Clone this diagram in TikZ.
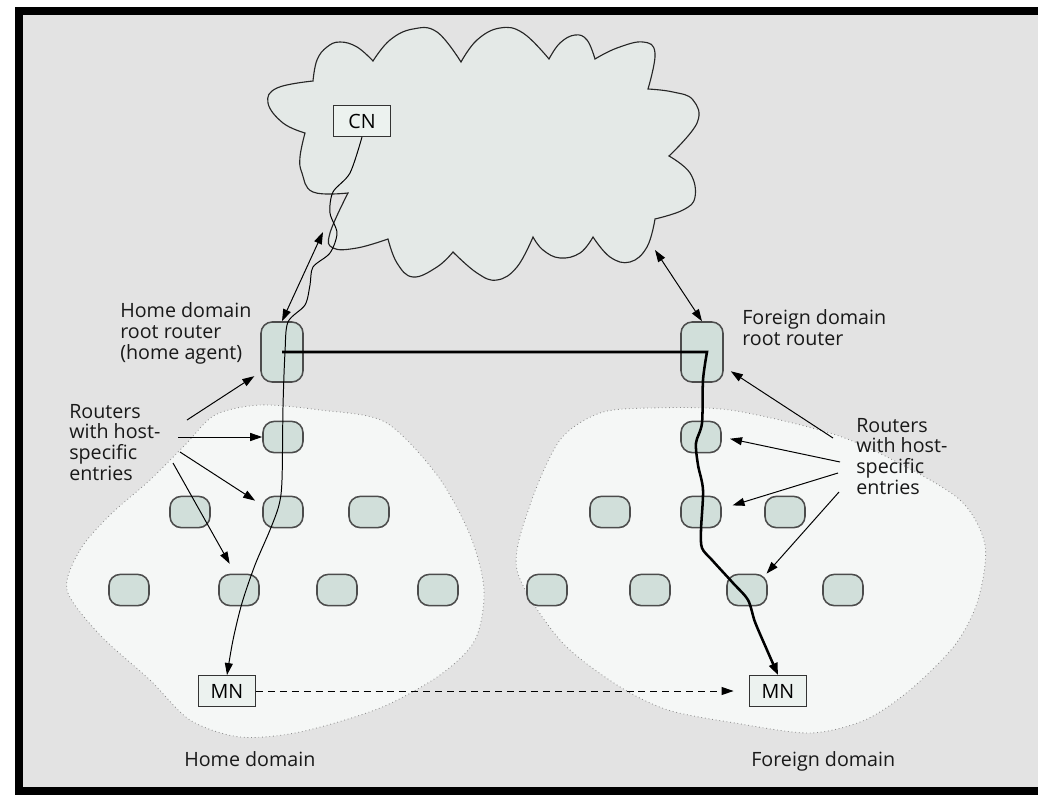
\documentclass[tikz,border=0pt]{standalone}
\usepackage{fontspec}
\setmainfont{Open Sans}
\usetikzlibrary{arrows.meta}

\definecolor{bggray}{HTML}{E3E3E3}
\definecolor{inetfill}{HTML}{E4E9E7}
\definecolor{areafill}{HTML}{F5F7F6}
\definecolor{rtrfill}{HTML}{D1DFDA}
\definecolor{hostfill}{HTML}{ECF2EF}

\begin{document}
\begin{tikzpicture}[x=0.025cm,y=-0.025cm,
  font=\fontsize{14}{14.6}\selectfont,
  rtr/.style={draw=black!70,line width=1.1pt,fill=rtrfill,rounded corners=0.28cm,
    minimum width=1cm,minimum height=0.78cm,inner sep=0pt},
  root/.style={rtr,minimum width=1.05cm,minimum height=1.5cm},
  host/.style={draw=black!80,line width=0.8pt,fill=hostfill,
    minimum width=1.42cm,minimum height=0.77cm,inner sep=0pt},
  lbl/.style={anchor=base west,align=left,inner sep=0pt,text=black!90},
  arr/.style={line width=0.7pt,-{Triangle[length=0.3cm,width=0.2cm]}},
  arrtwo/.style={line width=0.7pt,{Triangle[length=0.3cm,width=0.2cm]}-{Triangle[length=0.3cm,width=0.2cm]}},
  netarea/.style={draw=black!45,dotted,line width=0.6pt,fill=areafill},
  inet/.style={draw=black!85,line width=0.8pt,fill=inetfill}]
\useasboundingbox (0,0) rectangle (1038,795);
\fill[black] (15,7) rectangle (1038,795);
\fill[bggray] (23,15) rectangle (1038,787);

% the two domains
\draw[netarea] plot[smooth cycle] coordinates {(67,590) (80,550) (110,515) (150,480) (185,445)
  (215,415) (260,405) (320,410) (385,422) (437,475) (470,535) (484,590) (475,640) (440,675)
  (380,708) (300,732) (240,737) (190,720) (150,680) (100,635)};
\draw[netarea] plot[smooth cycle] coordinates {(517,570) (530,505) (560,440) (600,413) (650,408)
  (730,410) (830,433) (893,460) (960,500) (985,545) (978,600) (955,645) (910,690) (865,720)
  (810,733) (735,723) (668,710) (617,685) (560,640)};

% internet
\draw[inet] plot[smooth,tension=0.7] coordinates {(313,81) (317,60) (327,47) (340,42) (357,47) (373,61)}
  -- plot[smooth,tension=0.7] coordinates {(373,61) (390,40) (413,29) (437,32) (461,62)}
  -- plot[smooth,tension=0.7] coordinates {(461,62) (477,40) (500,28) (523,33) (549,59)}
  -- plot[smooth,tension=0.7] coordinates {(549,59) (560,43) (575,35) (587,40) (595,59)}
  -- plot[smooth,tension=0.7] coordinates {(595,59) (617,48) (643,42) (655,53) (648,89)}
  -- plot[smooth,tension=0.7] coordinates {(648,89) (673,92) (693,100) (697,123) (669,156)}
  -- plot[smooth,tension=0.7] coordinates {(669,156) (690,173) (695,197) (683,210) (655,219)}
  -- plot[smooth,tension=0.7] coordinates {(655,219) (647,247) (630,262) (610,257) (593,237)}
  -- plot[smooth,tension=0.7] coordinates {(593,237) (580,253) (560,258) (543,250) (533,237)}
  -- plot[smooth,tension=0.7] coordinates {(533,237) (517,267) (497,280) (477,273) (453,252)}
  -- plot[smooth,tension=0.7] coordinates {(453,252) (437,267) (413,277) (397,263) (388,239)}
  -- plot[smooth,tension=0.7] coordinates {(388,239) (357,248) (333,248) (330,233) (348,193)}
  -- plot[smooth,tension=0.7] coordinates {(348,193) (313,192) (302,173) (300,157) (305,133)}
  -- plot[smooth,tension=0.7] coordinates {(305,133) (283,123) (268,103) (277,88) (313,81)} -- cycle;

% routers
\node[root] (hroot) at (282,352) {};
\node[root] (froot) at (702,352) {};
\node[rtr] (h1) at (283,437) {};
\node[rtr] (h2a) at (190,512) {};
\node[rtr] (h2b) at (283,512) {};
\node[rtr] (h2c) at (369,512) {};
\node[rtr] (h3a) at (129,590) {};
\node[rtr] (h3b) at (239,590) {};
\node[rtr] (h3c) at (337,590) {};
\node[rtr] (h3d) at (438,590) {};
\node[rtr] (f1) at (701,437) {};
\node[rtr] (f2a) at (610,512) {};
\node[rtr] (f2b) at (701,512) {};
\node[rtr] (f2c) at (785,512) {};
\node[rtr] (f3a) at (547,590) {};
\node[rtr] (f3b) at (650,590) {};
\node[rtr] (f3c) at (747,590) {};
\node[rtr] (f3d) at (843,590) {};

% hosts
\node[host] (cn) at (362,121) {CN};
\node[host] (mnh) at (227,691) {MN};
\node[host] (mnf) at (778,691) {MN};

% labels (placed at the baseline of their last line)
\node[lbl] (lhroot) at (120,359) {Home domain\\root router\\(home agent)};
\node[lbl] (lhrt) at (69,480) {Routers\\with host-\\specific\\entries};
\node[lbl] (lfroot) at (742,345) {Foreign domain\\root router};
\node[lbl] (lfrt) at (856,494) {Routers\\with host-\\specific\\entries};
\node[lbl] (lhome) at (184,766) {Home domain};
\node[lbl] (lfor) at (751,766) {Foreign domain};

% free ends
\coordinate (cloudl) at (323,232);
\coordinate (cloudr) at (655,250);
\coordinate (turn) at (707,352);
\coordinate (la) at (187,420);
\coordinate (lb) at (178,437);
\coordinate (lc) at (180,452);
\coordinate (ld) at (173,463);
\coordinate (ra) at (833,438);
\coordinate (rb) at (840,462);
\coordinate (rc) at (838,473);
\coordinate (rd) at (839,492);

% links to the internet
\draw[arrtwo] (hroot.north) -- (cloudl);
\draw[arrtwo] (cloudr) -- (froot.north);

% routers with host-specific entries
\draw[arr,shorten >=5pt] (la) -- (hroot.-137);
\draw[arr] (lb) -- (h1.west);
\draw[arr,shorten >=6pt] (lc) -- (h2b.162);
\draw[arr,shorten >=8pt] (ld) -- (h3b.103);
\draw[arr,shorten >=6pt] (ra) -- (froot.-34);
\draw[arr,shorten >=6pt] (rb) -- (f1.east);
\draw[arr,shorten >=8pt] (rc) -- (f2b.9);
\draw[arr] (rd) -- (f3c.40);

% CN to MN in the home domain
\draw[arr] plot[smooth] coordinates {(cn.south) (350,173) (333,192) (330,213) (337,233)
  (330,253) (313,267) (310,285) (305,305) (288,322) (285,352) (283,407) (282,480) (279,505)
  (270,530) (255,565) (242,603) (233,640) (mnh.north)};

% tunnel to the foreign domain
\draw[line width=1.8pt,-{Triangle[length=0.3cm,width=0.22cm]}] (hroot.center) -- plot[smooth] coordinates {(turn)
  (703,380) (702,423) (696,443) (698,465) (703,490) (701,530) (702,548) (712,560) (733,583)
  (748,600) (755,622) (767,650) (mnf.north)};

% movement
\draw[arr,dash pattern=on 5pt off 3.5pt,shorten >=11pt] (mnh.east) -- (mnf.west);
\end{tikzpicture}
\end{document}
